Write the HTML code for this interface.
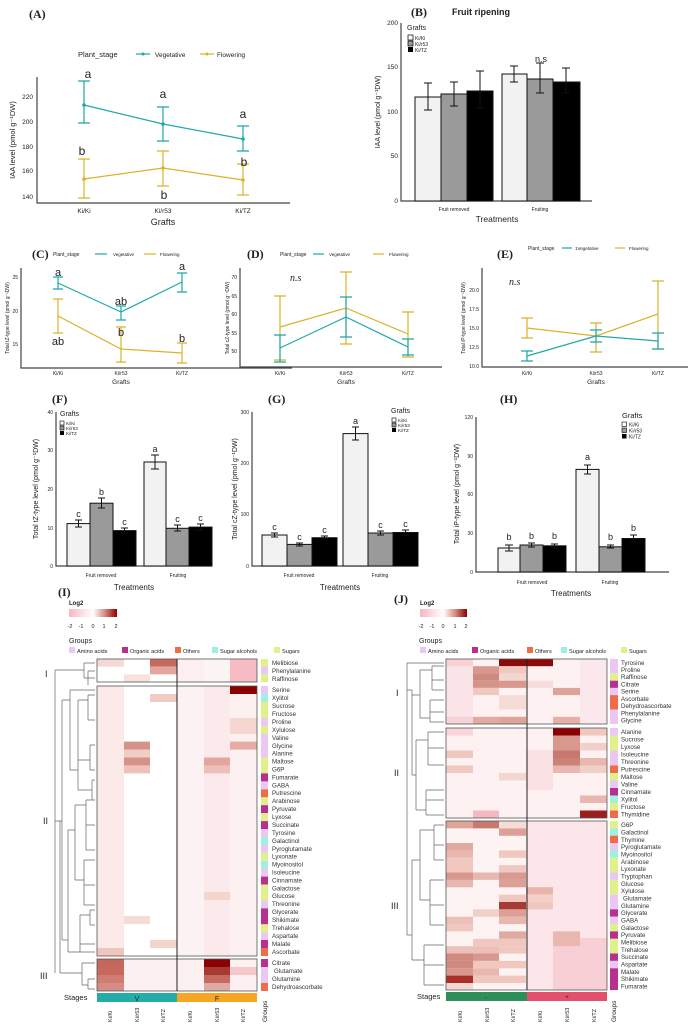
<!DOCTYPE html>
<html><head><meta charset="utf-8"><style>
html,body{margin:0;padding:0;background:#fff}
svg{display:block}
text{font-family:"Liberation Sans",sans-serif;fill:#222}
.ser{font-family:"Liberation Serif",serif}
.t{font-size:6.5px;fill:#555}
.ts{font-size:5px;fill:#555}
.ax{stroke:#444;stroke-width:1.2;fill:none}
.te{stroke:#1fa8a8;stroke-width:1.2;fill:none}
.ye{stroke:#d9b42a;stroke-width:1.2;fill:none}
.eb{stroke:#111;stroke-width:1;fill:none}
.bar{stroke:#111;stroke-width:1}
.rl{font-size:6.2px;fill:#333}
.dg{stroke:#666;stroke-width:0.7;fill:none}
</style></head><body>
<svg width="688" height="1024" viewBox="0 0 688 1024" xmlns="http://www.w3.org/2000/svg">
<rect width="688" height="1024" fill="#fff"/>

<!-- ===== A ===== -->
<text x="29" y="18" class="ser" font-size="12" font-weight="bold">(A)</text>
<text x="78" y="57" font-size="7.5">Plant_stage</text>
<line x1="136" y1="54" x2="150" y2="54" class="te"/><circle cx="143" cy="54" r="1.5" fill="#1fa8a8"/>
<text x="155" y="57" font-size="6.5">Vegetative</text>
<line x1="200" y1="54" x2="214" y2="54" class="ye"/><circle cx="207" cy="54" r="1.5" fill="#d9b42a"/>
<text x="217" y="57" font-size="6.5">Flowering</text>
<path d="M37 77 V203 H290" class="ax"/>
<g class="t" text-anchor="end"><text x="33" y="99">220</text><text x="33" y="124">200</text><text x="33" y="149">180</text><text x="33" y="173">160</text><text x="33" y="199">140</text></g>
<text transform="translate(15,140) rotate(-90)" font-size="7.5" text-anchor="middle">IAA level (pmol g⁻¹DW)</text>
<g class="t" text-anchor="middle"><text x="84" y="213">Ki/Ki</text><text x="163" y="213">Ki/r53</text><text x="243" y="213">Ki/TZ</text></g>
<text x="163" y="225" font-size="9" text-anchor="middle">Grafts</text>
<polyline points="84,105 163,124 243,139" class="te"/>
<path d="M84 81V123M78 81H90M78 123H90 M163 107V141M157 107H169M157 141H169 M243 126V151M237 126H249M237 151H249" class="te"/>
<polyline points="84,179 163,168 243,180" class="ye"/>
<path d="M84 159V198M78 159H90M78 198H90 M163 151V186M157 151H169M157 186H169 M243 164V195M237 164H249M237 195H249" class="ye"/>
<g fill="#1fa8a8"><circle cx="84" cy="105" r="1.8"/><circle cx="163" cy="124" r="1.8"/><circle cx="243" cy="139" r="1.8"/></g>
<g fill="#d9b42a"><circle cx="84" cy="179" r="1.8"/><circle cx="163" cy="168" r="1.8"/><circle cx="243" cy="180" r="1.8"/></g>
<g class="ser" font-size="12" text-anchor="middle"><text x="88" y="78">a</text><text x="163" y="98">a</text><text x="243" y="118">a</text><text x="82" y="155">b</text><text x="164" y="199">b</text><text x="244" y="166">b</text></g>

<!-- ===== B ===== -->
<text x="411" y="16" class="ser" font-size="12" font-weight="bold">(B)</text>
<text x="452" y="15" font-size="9" font-weight="bold">Fruit ripening</text>
<path d="M401 23 V201 H592" class="ax"/>
<g class="t" text-anchor="end"><text x="398" y="25">200</text><text x="398" y="69">150</text><text x="398" y="114">100</text><text x="398" y="158">50</text><text x="398" y="203">0</text></g>
<text transform="translate(380,112) rotate(-90)" font-size="7" text-anchor="middle">IAA level (pmol g⁻¹DW)</text>
<rect x="415" y="97" width="26" height="104" fill="#f2f2f2" class="bar"/>
<rect x="441" y="94" width="26" height="107" fill="#9a9a9a" class="bar"/>
<rect x="467" y="91" width="26" height="110" fill="#000" class="bar"/>
<rect x="502" y="74" width="25" height="127" fill="#f2f2f2" class="bar"/>
<rect x="527" y="79" width="26" height="122" fill="#9a9a9a" class="bar"/>
<rect x="553" y="82" width="27" height="119" fill="#000" class="bar"/>
<path d="M428 110V83M424 110H432M424 83H432 M454 106V82M450 106H458M450 82H458 M480 108V71M476 108H484M476 71H484 M514 82V66M510 82H518M510 66H518 M540 93V63M536 93H544M536 63H544 M566 93V68M562 93H570M562 68H570" class="eb"/>
<text x="407" y="30" font-size="7">Grafts</text>
<rect x="408" y="35" width="5" height="5" fill="#fff" stroke="#000" stroke-width="0.7"/><text x="415" y="40" font-size="5">Ki/Ki</text>
<rect x="408" y="41" width="5" height="5" fill="#9a9a9a" stroke="#000" stroke-width="0.7"/><text x="415" y="46" font-size="5">Ki/r53</text>
<rect x="408" y="47" width="5" height="5" fill="#000"/><text x="415" y="52" font-size="5">Ki/TZ</text>
<text x="541" y="62" font-size="9" text-anchor="middle">n.s</text>
<g class="ts" text-anchor="middle" font-size="5.5"><text x="454" y="211">Fruit removed</text><text x="540" y="211">Fruiting</text></g>
<text x="497" y="222" font-size="8.5" text-anchor="middle">Treatments</text>

<!-- ===== C ===== -->
<text x="32" y="258" class="ser" font-size="12" font-weight="bold">(C)</text>
<text x="53" y="256" font-size="5">Plant_stage</text>
<line x1="95" y1="254" x2="107" y2="254" class="te"/><text x="113" y="256" font-size="4.5">Vegetative</text>
<line x1="144" y1="254" x2="156" y2="254" class="ye"/><text x="160" y="256" font-size="4.5">Flowering</text>
<path d="M21 268 V368 H292" class="ax"/>
<g class="ts" text-anchor="end"><text x="18" y="279">25</text><text x="18" y="313">20</text><text x="18" y="346">15</text></g>
<text transform="translate(9,318) rotate(-90)" font-size="5" text-anchor="middle">Total tZ-type level (pmol g⁻¹DW)</text>
<g class="ts" text-anchor="middle"><text x="58" y="375">Ki/Ki</text><text x="121" y="375">Ki/r53</text><text x="182" y="375">Ki/TZ</text></g>
<text x="121" y="384" font-size="6.5" text-anchor="middle">Grafts</text>
<polyline points="58,283 121,312 182,282" class="te"/>
<path d="M58 277V289M53 277H63M53 289H63 M121 306V320M116 306H126M116 320H126 M182 273V292M177 273H187M177 292H187" class="te"/>
<polyline points="58,316 121,349 182,353" class="ye"/>
<path d="M58 299V333M53 299H63M53 333H63 M121 327V362M116 327H126M116 362H126 M182 343V363M177 343H187M177 363H187" class="ye"/>
<g class="ser" font-size="11" text-anchor="middle"><text x="58" y="276">a</text><text x="121" y="305">ab</text><text x="182" y="270">a</text><text x="58" y="345">ab</text><text x="121" y="336">b</text><text x="182" y="342">b</text></g>

<!-- ===== D ===== -->
<text x="247" y="258" class="ser" font-size="12" font-weight="bold">(D)</text>
<text x="280" y="256" font-size="5">Plant_stage</text>
<line x1="313" y1="254" x2="324" y2="254" class="te"/><text x="329" y="256" font-size="4.5">Vegetative</text>
<line x1="373" y1="254" x2="384" y2="254" class="ye"/><text x="389" y="256" font-size="4.5">Flowering</text>
<path d="M240 268 V367 H442" class="ax"/>
<g class="ts" text-anchor="end"><text x="237" y="279">70</text><text x="237" y="298">65</text><text x="237" y="316">60</text><text x="237" y="335">55</text><text x="237" y="353">50</text></g>
<text transform="translate(229,318) rotate(-90)" font-size="5" text-anchor="middle">Total cZ-type level (pmol g⁻¹DW)</text>
<g class="ts" text-anchor="middle"><text x="280" y="375">Ki/Ki</text><text x="346" y="375">Ki/r53</text><text x="408" y="375">Ki/TZ</text></g>
<text x="346" y="384" font-size="6.5" text-anchor="middle">Grafts</text>
<text x="290" y="281" class="ser" font-size="10" font-style="italic">n.s</text>
<polyline points="280,327 346,308 408,334" class="ye"/>
<path d="M280 296V360M274 296H286M274 360H286 M346 272V344M340 272H352M340 344H352 M408 312V357M402 312H414M402 357H414" class="ye"/>
<polyline points="280,348 346,317 408,347" class="te"/>
<path d="M280 335V362M274 335H286M274 362H286 M346 297V337M340 297H352M340 337H352 M408 339V355M402 339H414M402 355H414" class="te"/>

<!-- ===== E ===== -->
<text x="497" y="258" class="ser" font-size="12" font-weight="bold">(E)</text>
<text x="528" y="250" font-size="5">Plant_stage</text>
<line x1="562" y1="248" x2="572" y2="248" class="te"/><text x="575" y="250" font-size="4.5">1Vegetative</text>
<line x1="615" y1="248" x2="625" y2="248" class="ye"/><text x="629" y="250" font-size="4.5">Flowering</text>
<path d="M482 268 V367 H688" class="ax"/>
<g class="ts" text-anchor="end"><text x="479" y="292">20.0</text><text x="479" y="311">17.5</text><text x="479" y="330">15.0</text><text x="479" y="349">12.5</text><text x="479" y="368">10.0</text></g>
<text transform="translate(465,318) rotate(-90)" font-size="5" text-anchor="middle">Total iP-type level (pmol g⁻¹DW)</text>
<g class="ts" text-anchor="middle"><text x="527" y="375">Ki/Ki</text><text x="596" y="375">Ki/r53</text><text x="658" y="375">Ki/TZ</text></g>
<text x="596" y="384" font-size="6.5" text-anchor="middle">Grafts</text>
<text x="509" y="285" class="ser" font-size="10" font-style="italic">n.s</text>
<polyline points="527,328 596,336 658,314" class="ye"/>
<path d="M527 318V338M521 318H533M521 338H533 M596 323V352M590 323H602M590 352H602 M658 281V349M652 281H664M652 349H664" class="ye"/>
<polyline points="527,356 596,336 658,341" class="te"/>
<path d="M527 351V361M521 351H533M521 361H533 M596 330V342M590 330H602M590 342H602 M658 333V349M652 333H664M652 349H664" class="te"/>

<!-- ===== F ===== -->
<text x="52" y="403" class="ser" font-size="12" font-weight="bold">(F)</text>
<path d="M56 412 V566 H212" class="ax"/>
<g class="ts" text-anchor="end"><text x="53" y="414">40</text><text x="53" y="452">30</text><text x="53" y="491">20</text><text x="53" y="530">10</text><text x="53" y="568">0</text></g>
<text transform="translate(38,489) rotate(-90)" font-size="7" text-anchor="middle">Total tZ-type level (pmol g⁻¹DW)</text>
<rect x="67" y="523.6" width="23" height="42.4" fill="#f2f2f2" class="bar"/>
<rect x="90" y="503.2" width="23" height="62.8" fill="#9a9a9a" class="bar"/>
<rect x="113" y="530.6" width="23" height="35.4" fill="#000" class="bar"/>
<rect x="144" y="462" width="22" height="104" fill="#f2f2f2" class="bar"/>
<rect x="166" y="528.3" width="23" height="37.7" fill="#9a9a9a" class="bar"/>
<rect x="189" y="527.1" width="23" height="38.9" fill="#000" class="bar"/>
<path d="M78.5 520V527M75 520H82M75 527H82 M101.5 498V508M98 498H105M98 508H105 M124.5 528V533M121 528H128M121 533H128 M155 455V469M151 455H159M151 469H159 M177.5 525V531M174 525H181M174 531H181 M200.5 524V530M197 524H204M197 530H204" class="eb"/>
<g font-size="9" text-anchor="middle"><text x="78.5" y="517">c</text><text x="101.5" y="495">b</text><text x="124.5" y="525">c</text><text x="155" y="452">a</text><text x="177.5" y="522">c</text><text x="200.5" y="521">c</text></g>
<text x="60" y="416" font-size="7">Grafts</text>
<rect x="60" y="421" width="4" height="4" fill="#fff" stroke="#000" stroke-width="0.6"/><text x="66" y="425" font-size="4.5">Ki/Ki</text>
<rect x="60" y="426" width="4" height="4" fill="#9a9a9a" stroke="#000" stroke-width="0.6"/><text x="66" y="430" font-size="4.5">Ki/r53</text>
<rect x="60" y="431" width="4" height="4" fill="#000"/><text x="66" y="435" font-size="4.5">Ki/TZ</text>
<g class="ts" text-anchor="middle"><text x="101" y="577">Fruit removed</text><text x="178" y="577">Fruiting</text></g>
<text x="134" y="590" font-size="8" text-anchor="middle">Treatments</text>

<!-- ===== G ===== -->
<text x="268" y="403" class="ser" font-size="12" font-weight="bold">(G)</text>
<path d="M252 412 V566 H418" class="ax"/>
<g class="ts" text-anchor="end"><text x="249" y="414">300</text><text x="249" y="465">200</text><text x="249" y="516">100</text><text x="249" y="568">0</text></g>
<text transform="translate(237,489) rotate(-90)" font-size="7" text-anchor="middle">Total cZ-type level (pmol g⁻¹DW)</text>
<rect x="262" y="535" width="25" height="31" fill="#f2f2f2" class="bar"/>
<rect x="287" y="544.4" width="25" height="21.6" fill="#9a9a9a" class="bar"/>
<rect x="312" y="537.7" width="25" height="28.3" fill="#000" class="bar"/>
<rect x="343" y="433.6" width="25" height="132.4" fill="#f2f2f2" class="bar"/>
<rect x="368" y="533" width="25" height="33" fill="#9a9a9a" class="bar"/>
<rect x="393" y="532.5" width="25" height="33.5" fill="#000" class="bar"/>
<path d="M274.5 533V537M271 533H278M271 537H278 M299.5 543V546M296 543H303M296 546H303 M324.5 536V539M321 536H328M321 539H328 M355.5 427V440M352 427H359M352 440H359 M380.5 531V535M377 531H384M377 535H384 M405.5 530V535M402 530H409M402 535H409" class="eb"/>
<g font-size="9" text-anchor="middle"><text x="274.5" y="530">c</text><text x="299.5" y="540">c</text><text x="324.5" y="533">c</text><text x="355.5" y="424">a</text><text x="380.5" y="528">c</text><text x="405.5" y="527">c</text></g>
<text x="391" y="413" font-size="7">Grafts</text>
<rect x="392" y="418" width="4" height="4" fill="#fff" stroke="#000" stroke-width="0.6"/><text x="398" y="422" font-size="4.5">Ki/Ki</text>
<rect x="392" y="423" width="4" height="4" fill="#9a9a9a" stroke="#000" stroke-width="0.6"/><text x="398" y="427" font-size="4.5">Ki/r53</text>
<rect x="392" y="428" width="4" height="4" fill="#000"/><text x="398" y="432" font-size="4.5">Ki/TZ</text>
<g class="ts" text-anchor="middle"><text x="299" y="577">Fruit removed</text><text x="380" y="577">Fruiting</text></g>
<text x="340" y="590" font-size="8" text-anchor="middle">Treatments</text>

<!-- ===== H ===== -->
<text x="500" y="403" class="ser" font-size="12" font-weight="bold">(H)</text>
<path d="M476 417 V572 H669" class="ax"/>
<g class="ts" text-anchor="end"><text x="473" y="419">120</text><text x="473" y="458">90</text><text x="473" y="496">60</text><text x="473" y="535">30</text><text x="473" y="574">0</text></g>
<text transform="translate(459,494) rotate(-90)" font-size="7" text-anchor="middle">Total iP-type level (pmol g⁻¹DW)</text>
<rect x="498" y="548" width="22" height="24" fill="#f2f2f2" class="bar"/>
<rect x="520" y="545" width="23" height="27" fill="#9a9a9a" class="bar"/>
<rect x="543" y="545.8" width="23" height="26.2" fill="#000" class="bar"/>
<rect x="576" y="469.4" width="23" height="102.6" fill="#f2f2f2" class="bar"/>
<rect x="599" y="546.8" width="23" height="25.2" fill="#9a9a9a" class="bar"/>
<rect x="622" y="538.5" width="23" height="33.5" fill="#000" class="bar"/>
<path d="M509 545V551M505 545H513M505 551H513 M531.5 543V547M528 543H535M528 547H535 M554.5 544V548M551 544H558M551 548H558 M587.5 465V474M584 465H591M584 474H591 M610.5 545V548M607 545H614M607 548H614 M633.5 535V542M630 535H637M630 542H637" class="eb"/>
<g font-size="9" text-anchor="middle"><text x="509" y="540">b</text><text x="531.5" y="539">b</text><text x="554.5" y="539">b</text><text x="587.5" y="460">a</text><text x="610.5" y="540">b</text><text x="633.5" y="531">b</text></g>
<text x="622" y="418" font-size="7.5">Grafts</text>
<rect x="622" y="422" width="4.5" height="4.5" fill="#fff" stroke="#000" stroke-width="0.6"/><text x="629" y="426.5" font-size="5">Ki/Ki</text>
<rect x="622" y="428" width="4.5" height="4.5" fill="#9a9a9a" stroke="#000" stroke-width="0.6"/><text x="629" y="432.5" font-size="5">Ki/r53</text>
<rect x="622" y="434" width="4.5" height="4.5" fill="#000"/><text x="629" y="438.5" font-size="5">Ki/TZ</text>
<g class="ts" text-anchor="middle"><text x="532" y="584">Fruit removed</text><text x="610" y="584">Fruiting</text></g>
<text x="571" y="596" font-size="8" text-anchor="middle">Treatments</text>

<defs>
<linearGradient id="cb" x1="0" x2="1" y1="0" y2="0">
<stop offset="0" stop-color="#f7b6c2"/><stop offset="0.5" stop-color="#fff"/><stop offset="0.75" stop-color="#d58c80"/><stop offset="1" stop-color="#8b0000"/>
</linearGradient>
</defs>

<!-- ===== I ===== -->
<text x="58" y="596" class="ser" font-size="12" font-weight="bold">(I)</text>
<text x="69" y="605" font-size="6" font-weight="bold">Log2</text>
<rect x="69" y="609" width="48" height="8" fill="url(#cb)"/>
<g font-size="5.5" text-anchor="middle"><text x="70" y="628">-2</text><text x="81" y="628">-1</text><text x="93" y="628">0</text><text x="104" y="628">1</text><text x="116" y="628">2</text></g>
<text x="69" y="643" font-size="7">Groups</text>
<g font-size="5.6">
<rect x="69" y="647" width="6" height="6" fill="#ebc8f3"/><text x="77" y="653">Amino acids</text>
<rect x="122" y="647" width="6" height="6" fill="#b8308f"/><text x="130" y="653">Organic acids</text>
<rect x="175" y="647" width="6" height="6" fill="#f26b48"/><text x="183" y="653">Others</text>
<rect x="212" y="647" width="6" height="6" fill="#9ff0e0"/><text x="220" y="653">Sugar alcohols</text>
<rect x="274" y="647" width="6" height="6" fill="#e2f08c"/><text x="282" y="653">Sugars</text>
</g>
<!-- cluster I -->
<rect x="97" y="659" width="160" height="23" fill="#fff"/>
<rect x="97" y="659" width="27" height="7.7" fill="#f6d8d4"/>
<rect x="150" y="659" width="27" height="7.7" fill="#c46a60"/>
<rect x="150" y="666.7" width="27" height="7.7" fill="#e2a69c"/>
<rect x="124" y="674.4" width="26" height="7.6" fill="#f7e2de"/>
<rect x="177" y="659" width="27" height="23" fill="#fdeef0"/>
<rect x="204" y="659" width="26" height="23" fill="#fdf4f4"/>
<rect x="230" y="659" width="27" height="23" fill="#f8bcc6"/>
<rect x="97" y="659" width="160" height="23" fill="none" stroke="#555" stroke-width="0.8"/>
<!-- cluster II -->
<rect x="97" y="686" width="160" height="270" fill="#fff"/>
<rect x="97" y="686" width="27" height="270" fill="#fbeae8"/>
<rect x="177" y="686" width="27" height="270" fill="#fdf2f3"/>
<rect x="204" y="686" width="26" height="270" fill="#fce9ec"/>
<rect x="230" y="686" width="27" height="270" fill="#fdf0f1"/>
<rect x="230" y="686" width="27" height="8" fill="#8b0000"/>
<rect x="150" y="694" width="27" height="8" fill="#f0ccc4"/>
<rect x="124" y="741.6" width="26" height="8" fill="#d59288"/>
<rect x="230" y="741.6" width="27" height="8" fill="#e4aca4"/>
<rect x="230" y="718" width="27" height="16" fill="#f5d6d0"/>
<rect x="124" y="749.5" width="26" height="8" fill="#f0cec6"/>
<rect x="124" y="757.5" width="26" height="8" fill="#d59288"/>
<rect x="204" y="757.5" width="26" height="8" fill="#e3a69e"/>
<rect x="124" y="765.4" width="26" height="8" fill="#eec2ba"/>
<rect x="204" y="765.4" width="26" height="8" fill="#eebfb8"/>
<rect x="124" y="916" width="26" height="8" fill="#f6dcd6"/>
<rect x="204" y="892" width="26" height="8" fill="#f4d6ce"/>
<rect x="150" y="940" width="27" height="8" fill="#f2d4cc"/>
<rect x="97" y="948" width="27" height="8" fill="#efc6be"/>
<rect x="97" y="686" width="160" height="270" fill="none" stroke="#555" stroke-width="0.8"/>
<!-- cluster III -->
<rect x="97" y="959" width="160" height="32" fill="#fdf0f0"/>
<rect x="97" y="959" width="27" height="8" fill="#c4665c"/>
<rect x="97" y="967" width="27" height="8" fill="#c8685e"/>
<rect x="97" y="975" width="27" height="8" fill="#d07c72"/>
<rect x="97" y="983" width="27" height="8" fill="#d68c82"/>
<rect x="204" y="959" width="26" height="8" fill="#8b0000"/>
<rect x="204" y="967" width="26" height="8" fill="#a83a34"/>
<rect x="204" y="975" width="26" height="8" fill="#c46a60"/>
<rect x="204" y="983" width="26" height="8" fill="#e0aaa2"/>
<rect x="230" y="967" width="27" height="8" fill="#f6c8cc"/>
<rect x="97" y="959" width="160" height="32" fill="none" stroke="#555" stroke-width="0.8"/>
<line x1="177" y1="659" x2="177" y2="991" stroke="#222" stroke-width="1"/>
<!-- group colors I -->
<g>
<rect x="261" y="659" width="7" height="7.7" fill="#e2f08c"/><rect x="261" y="666.7" width="7" height="7.7" fill="#ebc8f3"/><rect x="261" y="674.4" width="7" height="7.6" fill="#e2f08c"/>
<rect x="261" y="686" width="7" height="8" fill="#ebc8f3"/><rect x="261" y="694" width="7" height="8" fill="#9ff0e0"/><rect x="261" y="702" width="7" height="16" fill="#e2f08c"/><rect x="261" y="718" width="7" height="8" fill="#ebc8f3"/><rect x="261" y="726" width="7" height="8" fill="#e2f08c"/><rect x="261" y="734" width="7" height="23.5" fill="#ebc8f3"/><rect x="261" y="757.5" width="7" height="16" fill="#e2f08c"/><rect x="261" y="773.4" width="7" height="8" fill="#b8308f"/><rect x="261" y="781.4" width="7" height="8" fill="#ebc8f3"/><rect x="261" y="789.4" width="7" height="8" fill="#f26b48"/><rect x="261" y="797.3" width="7" height="8" fill="#e2f08c"/><rect x="261" y="805.2" width="7" height="8" fill="#b8308f"/><rect x="261" y="813.2" width="7" height="8" fill="#e2f08c"/><rect x="261" y="821.1" width="7" height="8" fill="#b8308f"/><rect x="261" y="829" width="7" height="8" fill="#ebc8f3"/><rect x="261" y="837" width="7" height="8" fill="#9ff0e0"/><rect x="261" y="845" width="7" height="8" fill="#ebc8f3"/><rect x="261" y="852.8" width="7" height="8" fill="#e2f08c"/><rect x="261" y="860.8" width="7" height="8" fill="#9ff0e0"/><rect x="261" y="868.7" width="7" height="8" fill="#ebc8f3"/><rect x="261" y="876.6" width="7" height="8" fill="#b8308f"/><rect x="261" y="884.6" width="7" height="16" fill="#e2f08c"/><rect x="261" y="900.4" width="7" height="8" fill="#ebc8f3"/><rect x="261" y="908.4" width="7" height="16" fill="#b8308f"/><rect x="261" y="924.2" width="7" height="8" fill="#e2f08c"/><rect x="261" y="932.2" width="7" height="8" fill="#ebc8f3"/><rect x="261" y="940" width="7" height="8" fill="#b8308f"/><rect x="261" y="948" width="7" height="8" fill="#f26b48"/>
<rect x="261" y="959" width="7" height="8" fill="#b8308f"/><rect x="261" y="967" width="7" height="16" fill="#ebc8f3"/><rect x="261" y="983" width="7" height="8" fill="#f26b48"/>
</g>
<text class="rl" x="272">
<tspan x="272" y="665">Melibiose</tspan><tspan x="272" y="673">Phenylalanine</tspan><tspan x="272" y="681">Raffinose</tspan>
<tspan x="272" y="692">Serine</tspan><tspan x="272" y="700">Xylitol</tspan><tspan x="272" y="708">Sucrose</tspan><tspan x="272" y="716">Fructose</tspan><tspan x="272" y="724">Proline</tspan><tspan x="272" y="732">Xylulose</tspan><tspan x="272" y="740">Valine</tspan><tspan x="272" y="748">Glycine</tspan><tspan x="272" y="755.5">Alanine</tspan><tspan x="272" y="763.5">Maltose</tspan><tspan x="272" y="771.5">G6P</tspan><tspan x="272" y="779.5">Fumarate</tspan><tspan x="272" y="787.5">GABA</tspan><tspan x="272" y="795">Putrescine</tspan><tspan x="272" y="803">Arabinose</tspan><tspan x="272" y="811">Pyruvate</tspan><tspan x="272" y="819">Lyxose</tspan><tspan x="272" y="827">Succinate</tspan><tspan x="272" y="835">Tyrosine</tspan><tspan x="272" y="843">Galactinol</tspan><tspan x="272" y="851">Pyroglutamate</tspan><tspan x="272" y="858.5">Lyxonate</tspan><tspan x="272" y="866.5">Myoinositol</tspan><tspan x="272" y="874.5">Isoleucine</tspan><tspan x="272" y="882.5">Cinnamate</tspan><tspan x="272" y="890.5">Galactose</tspan><tspan x="272" y="898">Glucose</tspan><tspan x="272" y="906">Threonine</tspan><tspan x="272" y="914">Glycerate</tspan><tspan x="272" y="922">Shikimate</tspan><tspan x="272" y="930">Trehalose</tspan><tspan x="272" y="938">Aspartate</tspan><tspan x="272" y="946">Malate</tspan><tspan x="272" y="954">Ascorbate</tspan>
<tspan x="272" y="965">Citrate</tspan><tspan x="274" y="973">Glutamate</tspan><tspan x="272" y="981">Glutamine</tspan><tspan x="272" y="989">Dehydroascorbate</tspan>
</text>
<!-- dendrogram I -->
<path class="dg" d="M55 670V973 M55 670H84 M84 663V678 M84 663H95 M84 678H88 M88 671V685 M88 671H95 M88 678H95
M55 821H60 M60 973V821 M60 973H82 M82 963V985 M82 963H95 M82 985H88 M88 979V989 M88 979H95 M88 989H95
M60 821H62 M62 700V940 M62 700H70 M70 690V770 M70 690H95 M70 770H78 M78 700V790 M78 700H88 M88 695V720 M88 695H95 M88 720H95 M78 760H90 M90 745V770 M90 745H95 M90 770H95 M78 790H92 M92 780V800 M92 780H95 M92 800H95
M62 940H68 M68 830V952 M68 830H75 M75 805V880 M75 805H86 M86 800V850 M86 800H95 M86 825H95 M86 850H95 M75 880H84 M84 860V905 M84 860H95 M84 885H95 M84 905H95 M68 952H80 M80 915V952 M80 915H90 M90 910V925 M90 910H95 M90 925H95 M80 944H95 M80 952H95"/>
<g class="ser" font-size="9"><text x="45" y="677">I</text><text x="43" y="824">II</text><text x="40" y="979">III</text></g>
<!-- stages I -->
<text x="64" y="1000" font-size="7.5">Stages</text>
<rect x="97" y="993" width="80" height="9" fill="#22aea6"/>
<rect x="177" y="993" width="80" height="9" fill="#f6a623"/>
<text x="137" y="1001" font-size="7" text-anchor="middle" fill="#333">V</text>
<text x="217" y="1001" font-size="7" text-anchor="middle" fill="#333">F</text>
<g font-size="5.5" fill="#333">
<text transform="translate(112,1022) rotate(-90)">Ki/Ki</text><text transform="translate(139,1022) rotate(-90)">Ki/r53</text><text transform="translate(165,1022) rotate(-90)">Ki/TZ</text><text transform="translate(192,1022) rotate(-90)">Ki/Ki</text><text transform="translate(219,1022) rotate(-90)">Ki/r53</text><text transform="translate(245,1022) rotate(-90)">Ki/TZ</text><text transform="translate(267,1022) rotate(-90)" font-size="6.5">Groups</text>
</g>

<!-- ===== J ===== -->
<text x="394" y="603" class="ser" font-size="12" font-weight="bold">(J)</text>
<text x="420" y="605" font-size="6" font-weight="bold">Log2</text>
<rect x="420" y="609" width="47" height="8" fill="url(#cb)"/>
<g font-size="5.5" text-anchor="middle"><text x="421" y="628">-2</text><text x="432" y="628">-1</text><text x="443" y="628">0</text><text x="455" y="628">1</text><text x="466" y="628">2</text></g>
<text x="419" y="643" font-size="7">Groups</text>
<g font-size="5.6">
<rect x="420" y="647" width="6" height="6" fill="#ebc8f3"/><text x="428" y="653">Amino acids</text>
<rect x="472" y="647" width="6" height="6" fill="#b8308f"/><text x="480" y="653">Organic acids</text>
<rect x="527" y="647" width="6" height="6" fill="#f26b48"/><text x="535" y="653">Others</text>
<rect x="561" y="647" width="6" height="6" fill="#9ff0e0"/><text x="569" y="653">Sugar alcohols</text>
<rect x="621" y="647" width="6" height="6" fill="#e2f08c"/><text x="629" y="653">Sugars</text>
</g>
<!-- J cluster I: y 659-724, rows 7.22 -->
<rect x="446" y="659" width="161" height="65" fill="#fdf1f2"/>
<rect x="446" y="659" width="27" height="65" fill="#fbe4e8"/>
<rect x="580" y="659" width="27" height="65" fill="#fbe8ec"/>
<rect x="446" y="659" width="27" height="7.2" fill="#f8d0d6"/>
<rect x="499" y="659" width="54" height="7.2" fill="#8b0a0a"/>
<rect x="473" y="666.2" width="26" height="7.2" fill="#d89890"/><rect x="499" y="666.2" width="27" height="7.2" fill="#f0c8c0"/>
<rect x="473" y="673.4" width="26" height="7.3" fill="#cf8a80"/><rect x="499" y="673.4" width="27" height="7.3" fill="#f4d6d0"/>
<rect x="473" y="680.7" width="26" height="7.2" fill="#d49488"/><rect x="499" y="680.7" width="27" height="7.2" fill="#d8988e"/><rect x="526" y="680.7" width="27" height="7.2" fill="#f8dcdc"/>
<rect x="473" y="687.9" width="26" height="7.2" fill="#f0c8c0"/><rect x="553" y="687.9" width="27" height="7.2" fill="#dea49a"/>
<rect x="499" y="695.1" width="27" height="14.4" fill="#f6dcd6"/>
<rect x="446" y="716.8" width="27" height="7.2" fill="#f4d4d6"/><rect x="473" y="716.8" width="26" height="7.2" fill="#e2aaa0"/><rect x="499" y="716.8" width="27" height="7.2" fill="#dea49a"/><rect x="553" y="716.8" width="27" height="7.2" fill="#e6b0a8"/>
<rect x="446" y="659" width="161" height="65" fill="none" stroke="#555" stroke-width="0.8"/>
<!-- J cluster II: y 728-818, rows 7.5 -->
<rect x="446" y="728" width="161" height="90" fill="#fdf1f2"/>
<rect x="526" y="750" width="27" height="40" fill="#f9e0e3"/>
<rect x="446" y="728" width="27" height="7.5" fill="#f8d6dc"/>
<rect x="553" y="728" width="27" height="7.5" fill="#8b0000"/><rect x="580" y="728" width="27" height="7.5" fill="#f0c8c0"/>
<rect x="553" y="735.5" width="27" height="7.5" fill="#d8988e"/>
<rect x="553" y="743" width="27" height="7.5" fill="#d8988e"/><rect x="580" y="743" width="27" height="7.5" fill="#f0d0c8"/>
<rect x="446" y="750.5" width="27" height="7.5" fill="#f0c8c0"/><rect x="553" y="750.5" width="27" height="7.5" fill="#c8786e"/>
<rect x="553" y="758" width="27" height="7.5" fill="#cd8278"/><rect x="580" y="758" width="27" height="7.5" fill="#e8b8b0"/>
<rect x="446" y="765.5" width="27" height="7.5" fill="#f0c8c0"/><rect x="553" y="765.5" width="27" height="7.5" fill="#e8b8b0"/><rect x="580" y="765.5" width="27" height="7.5" fill="#f0d0c8"/>
<rect x="499" y="773" width="27" height="7.5" fill="#f4d6d0"/>
<rect x="580" y="795.5" width="27" height="7.5" fill="#e8b8b0"/>
<rect x="473" y="810.5" width="26" height="7.5" fill="#f6b8c4"/><rect x="580" y="810.5" width="27" height="7.5" fill="#9b1e1e"/>
<rect x="446" y="728" width="161" height="90" fill="none" stroke="#555" stroke-width="0.8"/>
<!-- J cluster III: y 821-990, rows 7.35 -->
<rect x="446" y="821" width="161" height="169" fill="#fdf3f3"/>
<rect x="526" y="821" width="81" height="169" fill="#fce6e9"/>
<rect x="553" y="938" width="54" height="52" fill="#f9cfd6"/>
<rect x="446" y="821" width="27" height="7.35" fill="#dea49a"/><rect x="473" y="821" width="26" height="7.35" fill="#c87a70"/><rect x="499" y="821" width="27" height="7.35" fill="#f6dcd6"/>
<rect x="499" y="828.4" width="27" height="7.35" fill="#dda097"/>
<rect x="446" y="843" width="27" height="7.4" fill="#e0aaa0"/>
<rect x="446" y="850.4" width="27" height="7.4" fill="#e8b8b0"/><rect x="499" y="850.4" width="27" height="7.4" fill="#f0c8c0"/>
<rect x="446" y="857.8" width="27" height="14.7" fill="#f0c8c0"/><rect x="499" y="865.1" width="27" height="7.4" fill="#f0c8c0"/>
<rect x="446" y="872.5" width="27" height="7.4" fill="#d8988e"/><rect x="473" y="872.5" width="26" height="7.4" fill="#e8b8b0"/><rect x="499" y="872.5" width="27" height="7.4" fill="#d89a90"/>
<rect x="446" y="879.9" width="27" height="7.4" fill="#e8b8b0"/><rect x="499" y="879.9" width="27" height="7.4" fill="#dca097"/>
<rect x="526" y="887.2" width="27" height="7.4" fill="#e8b4ac"/>
<rect x="499" y="894.6" width="27" height="7.4" fill="#f0c8c0"/><rect x="526" y="894.6" width="27" height="7.4" fill="#f4d0c8"/>
<rect x="499" y="902" width="27" height="7.4" fill="#a83a34"/><rect x="526" y="902" width="27" height="7.4" fill="#f0c8c0"/>
<rect x="473" y="909.3" width="26" height="7.4" fill="#f0d0c8"/><rect x="499" y="909.3" width="27" height="7.4" fill="#dca097"/>
<rect x="446" y="916.7" width="27" height="7.4" fill="#ecc0b8"/><rect x="499" y="916.7" width="27" height="7.4" fill="#e8b8b0"/>
<rect x="446" y="924" width="27" height="7.4" fill="#f0c8c0"/>
<rect x="499" y="931.4" width="27" height="7.4" fill="#e0aaa0"/><rect x="553" y="931.4" width="27" height="7.4" fill="#e8b8b0"/>
<rect x="473" y="938.8" width="53" height="7.4" fill="#f0c8c0"/><rect x="553" y="938.8" width="27" height="7.4" fill="#eab8b0"/>
<rect x="446" y="946.2" width="53" height="7.4" fill="#ecc0b8"/><rect x="499" y="946.2" width="27" height="7.4" fill="#f0c8c0"/>
<rect x="446" y="953.5" width="27" height="7.4" fill="#d08a80"/><rect x="473" y="953.5" width="26" height="7.4" fill="#d89890"/>
<rect x="446" y="960.9" width="27" height="7.4" fill="#d08a80"/><rect x="473" y="960.9" width="53" height="7.4" fill="#f0c8c0"/>
<rect x="446" y="968.3" width="27" height="7.4" fill="#d8988e"/><rect x="473" y="968.3" width="26" height="7.4" fill="#e8b8b0"/>
<rect x="446" y="975.6" width="27" height="7.4" fill="#a83028"/><rect x="473" y="975.6" width="53" height="7.4" fill="#f0c8c0"/>
<rect x="446" y="983" width="27" height="7" fill="#f4d8d4"/>
<rect x="446" y="821" width="161" height="169" fill="none" stroke="#555" stroke-width="0.8"/>
<line x1="527" y1="659" x2="527" y2="990" stroke="#222" stroke-width="1"/>
<!-- group colors J -->
<g>
<rect x="610" y="659" width="8" height="14.4" fill="#ebc8f3"/><rect x="610" y="673.4" width="8" height="7.3" fill="#e2f08c"/><rect x="610" y="680.7" width="8" height="7.2" fill="#b8308f"/><rect x="610" y="687.9" width="8" height="7.2" fill="#ebc8f3"/><rect x="610" y="695.1" width="8" height="14.4" fill="#f26b48"/><rect x="610" y="709.5" width="8" height="14.5" fill="#ebc8f3"/>
<rect x="610" y="728" width="8" height="7.5" fill="#ebc8f3"/><rect x="610" y="735.5" width="8" height="15" fill="#e2f08c"/><rect x="610" y="750.5" width="8" height="15" fill="#ebc8f3"/><rect x="610" y="765.5" width="8" height="7.5" fill="#f26b48"/><rect x="610" y="773" width="8" height="7.5" fill="#e2f08c"/><rect x="610" y="780.5" width="8" height="7.5" fill="#ebc8f3"/><rect x="610" y="788" width="8" height="7.5" fill="#b8308f"/><rect x="610" y="795.5" width="8" height="7.5" fill="#9ff0e0"/><rect x="610" y="803" width="8" height="7.5" fill="#e2f08c"/><rect x="610" y="810.5" width="8" height="7.5" fill="#f26b48"/>
<rect x="610" y="821" width="8" height="7.4" fill="#e2f08c"/><rect x="610" y="828.4" width="8" height="7.3" fill="#9ff0e0"/><rect x="610" y="835.7" width="8" height="7.3" fill="#f26b48"/><rect x="610" y="843" width="8" height="7.4" fill="#ebc8f3"/><rect x="610" y="850.4" width="8" height="7.4" fill="#9ff0e0"/><rect x="610" y="857.8" width="8" height="14.7" fill="#e2f08c"/><rect x="610" y="872.5" width="8" height="7.4" fill="#ebc8f3"/><rect x="610" y="879.9" width="8" height="14.7" fill="#e2f08c"/><rect x="610" y="894.6" width="8" height="14.7" fill="#ebc8f3"/><rect x="610" y="909.3" width="8" height="7.4" fill="#b8308f"/><rect x="610" y="916.7" width="8" height="7.3" fill="#ebc8f3"/><rect x="610" y="924" width="8" height="7.4" fill="#e2f08c"/><rect x="610" y="931.4" width="8" height="7.4" fill="#b8308f"/><rect x="610" y="938.8" width="8" height="14.7" fill="#e2f08c"/><rect x="610" y="953.5" width="8" height="7.4" fill="#b8308f"/><rect x="610" y="960.9" width="8" height="7.4" fill="#ebc8f3"/><rect x="610" y="968.3" width="8" height="21.7" fill="#b8308f"/>
</g>
<text class="rl" x="621">
<tspan x="621" y="665">Tyrosine</tspan><tspan x="621" y="672">Proline</tspan><tspan x="621" y="679">Raffinose</tspan><tspan x="621" y="686.5">Citrate</tspan><tspan x="621" y="693.5">Serine</tspan><tspan x="621" y="701">Ascorbate</tspan><tspan x="621" y="708">Dehydroascorbate</tspan><tspan x="621" y="715.5">Phenylalanine</tspan><tspan x="621" y="722.5">Glycine</tspan>
<tspan x="621" y="734">Alanine</tspan><tspan x="621" y="741.5">Sucrose</tspan><tspan x="621" y="749">Lyxose</tspan><tspan x="621" y="756.5">Isoleucine</tspan><tspan x="621" y="764">Threonine</tspan><tspan x="621" y="771.5">Putrescine</tspan><tspan x="621" y="779">Maltose</tspan><tspan x="621" y="786.5">Valine</tspan><tspan x="621" y="794">Cinnamate</tspan><tspan x="621" y="801.5">Xylitol</tspan><tspan x="621" y="809">Fructose</tspan><tspan x="621" y="816.5">Thymidine</tspan>
<tspan x="621" y="827">G6P</tspan><tspan x="621" y="834.5">Galactinol</tspan><tspan x="621" y="842">Thymine</tspan><tspan x="621" y="849">Pyroglutamate</tspan><tspan x="621" y="856.5">Myoinositol</tspan><tspan x="621" y="864">Arabinose</tspan><tspan x="621" y="871">Lyxonate</tspan><tspan x="621" y="878.5">Tryptophan</tspan><tspan x="621" y="886">Glucose</tspan><tspan x="621" y="893">Xylulose</tspan><tspan x="623" y="900.5">Glutamate</tspan><tspan x="621" y="908">Glutamine</tspan><tspan x="621" y="915">Glycerate</tspan><tspan x="621" y="922.5">GABA</tspan><tspan x="621" y="930">Galactose</tspan><tspan x="621" y="937">Pyruvate</tspan><tspan x="621" y="944.5">Melibiose</tspan><tspan x="621" y="952">Trehalose</tspan><tspan x="621" y="959">Succinate</tspan><tspan x="621" y="966.5">Aspartate</tspan><tspan x="621" y="974">Malate</tspan><tspan x="621" y="981">Shikimate</tspan><tspan x="621" y="988.5">Fumarate</tspan>
</text>
<!-- dendrogram J -->
<path class="dg" d="M407 663V935 M407 663H444 M407 690H412 M412 690V775 M412 695H420 M420 670V718 M420 670H432 M432 666V690 M432 666H444 M432 680H444 M432 690H444 M420 718H430 M430 700V722 M430 700H444 M430 712H444 M430 722H444
M412 775H416 M416 740V810 M416 740H428 M428 732V765 M428 732H444 M428 748H444 M428 765H444 M416 810H426 M426 790V815 M426 790H444 M426 800H444 M426 815H444
M407 935H412 M412 860V960 M412 860H420 M420 830V900 M420 830H434 M434 825V860 M434 825H444 M434 845H444 M434 860H444 M420 900H430 M430 880V925 M430 880H444 M430 905H444 M430 925H444 M412 960H424 M424 945V985 M424 945H444 M424 965H444 M424 985H444"/>
<g class="ser" font-size="9"><text x="396" y="696">I</text><text x="394" y="776">II</text><text x="391" y="909">III</text></g>
<text x="417" y="999" font-size="7.5">Stages</text>
<rect x="446" y="992" width="81" height="9" fill="#2e9058"/>
<rect x="527" y="992" width="80" height="9" fill="#e2506b"/>
<text x="486" y="999" font-size="6" text-anchor="middle" fill="#333">-</text>
<text x="567" y="999" font-size="6" text-anchor="middle" fill="#333">+</text>
<g font-size="5.5" fill="#333">
<text transform="translate(462,1022) rotate(-90)">Ki/Ki</text><text transform="translate(489,1022) rotate(-90)">Ki/r53</text><text transform="translate(515,1022) rotate(-90)">Ki/TZ</text><text transform="translate(542,1022) rotate(-90)">Ki/Ki</text><text transform="translate(569,1022) rotate(-90)">Ki/r53</text><text transform="translate(596,1022) rotate(-90)">Ki/TZ</text><text transform="translate(616,1022) rotate(-90)" font-size="6.5">Groups</text>
</g>
</svg>
</body></html>
